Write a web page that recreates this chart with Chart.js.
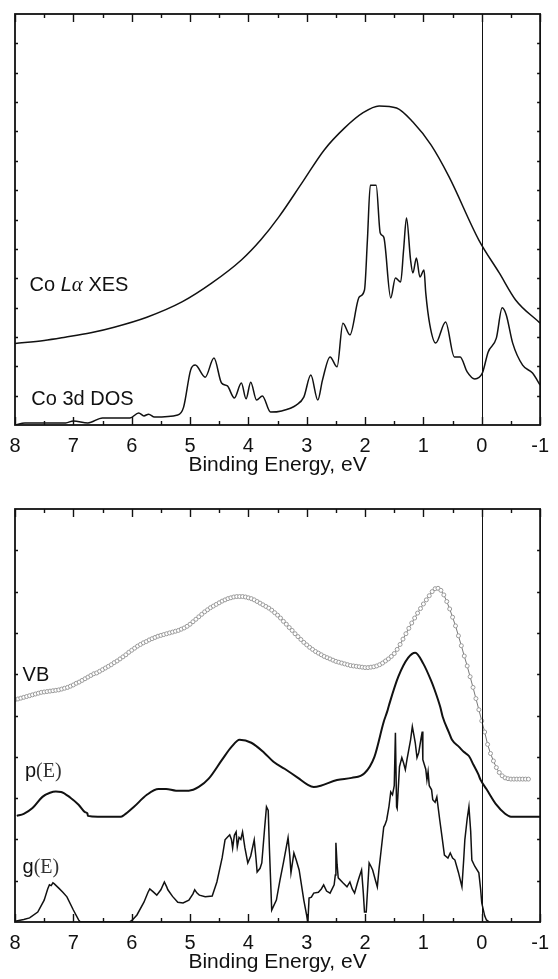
<!DOCTYPE html>
<html>
<head>
<meta charset="utf-8">
<script src="https://cdn.jsdelivr.net/npm/chart.js@4.4.1/dist/chart.umd.min.js"></script>
<style>
  body { margin: 0; background: #fff; }
  .panel { position: absolute; left: 0; }
  #xesPanel { top: 0; }
  #vbPanel { top: 497px; }
</style>
</head>
<body>
<canvas id="xesPanel" class="panel" width="558" height="482"></canvas>
<canvas id="vbPanel" class="panel" width="558" height="482"></canvas>
<script>
// binding energy axis (eV), drawn reversed: 8 on the left, -1 on the right
const energyTicks = [8, 7, 6, 5, 4, 3, 2, 1, 0, -1];
const axisTitle = "Binding Energy, eV";

// upper panel: [binding energy, intensity]
const xesCurve = [
  [8.00, 2.78], [7.50, 2.88], [7.14, 2.99], [6.70, 3.14], [6.30, 3.33], [5.74, 3.67],
  [5.13, 4.20], [4.63, 4.83], [4.12, 5.62], [3.79, 6.30], [3.48, 7.08], [3.07, 8.28],
  [2.70, 9.37], [2.35, 10.12], [2.04, 10.63], [1.76, 10.87], [1.46, 10.80], [1.18, 10.32],
  [0.87, 9.54], [0.56, 8.45], [0.05, 6.30], [-0.30, 5.18], [-0.58, 4.26], [-1.00, 3.47]
];

const dosCurve = [
  [8.00, 0.00], [7.83, 0.07], [7.13, 0.07], [7.00, 0.14], [6.75, 0.07], [6.50, 0.24],
  [6.03, 0.24], [5.88, 0.41], [5.79, 0.31], [5.71, 0.37], [5.61, 0.27], [5.21, 0.34],
  [5.11, 0.61], [4.99, 1.87], [4.91, 2.04], [4.74, 1.63], [4.59, 2.28], [4.46, 1.43],
  [4.36, 1.33], [4.24, 0.92], [4.12, 1.43], [4.04, 0.89], [3.96, 1.46], [3.86, 0.85],
  [3.76, 0.99], [3.62, 0.44], [3.43, 0.48], [3.18, 0.68], [3.05, 0.95], [2.93, 1.70],
  [2.81, 0.85], [2.73, 1.53], [2.60, 2.32], [2.48, 1.98], [2.38, 3.47], [2.26, 3.07],
  [2.10, 4.36], [2.01, 4.60], [1.96, 6.30], [1.91, 8.17], [1.81, 8.17], [1.74, 6.54],
  [1.68, 6.40], [1.56, 4.33], [1.48, 5.01], [1.39, 4.87], [1.34, 5.96], [1.29, 7.05],
  [1.22, 5.62], [1.18, 5.18], [1.12, 5.69], [1.06, 5.04], [0.99, 5.28], [0.96, 4.50],
  [0.89, 3.41], [0.79, 2.79], [0.62, 3.51], [0.47, 2.32], [0.37, 2.32], [0.25, 1.81],
  [0.12, 1.57], [-0.01, 1.77], [-0.11, 2.49], [-0.25, 2.96], [-0.35, 3.99], [-0.42, 3.75],
  [-0.53, 2.79], [-0.70, 2.04], [-0.87, 1.77], [-1.00, 1.36]
];

// lower panel: valence band spectrum (open circles)
const vbSpectrum = [
  [8.00, 5.38], [7.95, 5.40], [7.90, 5.42], [7.85, 5.44], [7.80, 5.46], [7.75, 5.48],
  [7.70, 5.50], [7.65, 5.52], [7.60, 5.54], [7.55, 5.56], [7.50, 5.57], [7.45, 5.58],
  [7.40, 5.59], [7.35, 5.60], [7.30, 5.61], [7.25, 5.62], [7.20, 5.64], [7.15, 5.66],
  [7.10, 5.68], [7.05, 5.71], [7.00, 5.74], [6.95, 5.78], [6.90, 5.81], [6.85, 5.85],
  [6.80, 5.89], [6.75, 5.93], [6.70, 5.97], [6.65, 6.01], [6.60, 6.03], [6.55, 6.07],
  [6.50, 6.11], [6.45, 6.15], [6.40, 6.19], [6.35, 6.23], [6.30, 6.28], [6.25, 6.32],
  [6.20, 6.37], [6.15, 6.42], [6.10, 6.47], [6.05, 6.53], [6.00, 6.58], [5.95, 6.63],
  [5.90, 6.68], [5.85, 6.72], [5.80, 6.76], [5.75, 6.79], [5.70, 6.83], [5.65, 6.86],
  [5.60, 6.89], [5.55, 6.92], [5.50, 6.94], [5.45, 6.96], [5.40, 6.98], [5.35, 7.00],
  [5.30, 7.02], [5.25, 7.04], [5.20, 7.06], [5.15, 7.09], [5.10, 7.12], [5.05, 7.16],
  [5.00, 7.21], [4.95, 7.27], [4.90, 7.33], [4.85, 7.39], [4.80, 7.45], [4.75, 7.51],
  [4.70, 7.56], [4.65, 7.61], [4.60, 7.65], [4.55, 7.69], [4.50, 7.73], [4.45, 7.77],
  [4.40, 7.80], [4.35, 7.83], [4.30, 7.85], [4.25, 7.87], [4.20, 7.88], [4.15, 7.88],
  [4.10, 7.88], [4.05, 7.87], [4.00, 7.85], [3.95, 7.83], [3.90, 7.80], [3.85, 7.76],
  [3.80, 7.72], [3.75, 7.68], [3.70, 7.64], [3.65, 7.60], [3.60, 7.55], [3.55, 7.49],
  [3.50, 7.43], [3.45, 7.36], [3.40, 7.28], [3.35, 7.21], [3.30, 7.13], [3.25, 7.06],
  [3.20, 6.98], [3.15, 6.91], [3.10, 6.84], [3.05, 6.77], [3.00, 6.71], [2.95, 6.65],
  [2.90, 6.60], [2.85, 6.55], [2.80, 6.51], [2.75, 6.47], [2.70, 6.43], [2.65, 6.40],
  [2.60, 6.37], [2.55, 6.34], [2.50, 6.31], [2.45, 6.29], [2.40, 6.27], [2.35, 6.25],
  [2.30, 6.23], [2.25, 6.21], [2.20, 6.20], [2.15, 6.19], [2.10, 6.18], [2.05, 6.17],
  [2.00, 6.16], [1.95, 6.16], [1.90, 6.17], [1.85, 6.18], [1.80, 6.20], [1.75, 6.23],
  [1.70, 6.27], [1.65, 6.32], [1.60, 6.37], [1.55, 6.43], [1.50, 6.50], [1.45, 6.60],
  [1.40, 6.72], [1.35, 6.85], [1.30, 6.98], [1.25, 7.11], [1.20, 7.24], [1.15, 7.36],
  [1.10, 7.48], [1.05, 7.59], [1.00, 7.70], [0.95, 7.80], [0.90, 7.90], [0.85, 8.00],
  [0.80, 8.07], [0.75, 8.08], [0.70, 8.03], [0.65, 7.92], [0.60, 7.76], [0.55, 7.58],
  [0.50, 7.38], [0.45, 7.17], [0.40, 6.93], [0.35, 6.69], [0.30, 6.44], [0.25, 6.20],
  [0.20, 5.94], [0.15, 5.68], [0.10, 5.41], [0.05, 5.14], [0.00, 4.87], [-0.05, 4.60],
  [-0.10, 4.30], [-0.15, 4.08], [-0.20, 3.90], [-0.25, 3.74], [-0.30, 3.62], [-0.35, 3.54],
  [-0.40, 3.49], [-0.45, 3.47], [-0.50, 3.46], [-0.55, 3.46], [-0.60, 3.46], [-0.65, 3.46],
  [-0.70, 3.46], [-0.75, 3.46], [-0.80, 3.46]
];

const pCurve = [
  [7.97, 2.57], [7.85, 2.62], [7.70, 2.76], [7.53, 3.03], [7.40, 3.13], [7.30, 3.16],
  [7.21, 3.15], [7.05, 3.01], [6.91, 2.84], [6.80, 2.66], [6.76, 2.63], [6.75, 2.57],
  [6.58, 2.55], [6.19, 2.55], [6.13, 2.59], [5.96, 2.79], [5.74, 3.08], [5.54, 3.22],
  [5.41, 3.22], [5.24, 3.18], [5.02, 3.18], [4.85, 3.27], [4.68, 3.47], [4.45, 3.93],
  [4.29, 4.24], [4.15, 4.41], [3.95, 4.34], [3.73, 4.10], [3.57, 3.88], [3.38, 3.71],
  [3.15, 3.49], [2.98, 3.32], [2.88, 3.27], [2.76, 3.30], [2.48, 3.44], [2.23, 3.49],
  [2.01, 3.60], [1.84, 4.00], [1.68, 4.85], [1.62, 5.10], [1.59, 5.25], [1.43, 5.94],
  [1.26, 6.40], [1.14, 6.52], [1.00, 6.25], [0.87, 5.85], [0.81, 5.63], [0.71, 5.20],
  [0.67, 4.97], [0.56, 4.58], [0.51, 4.41], [0.39, 4.24], [0.31, 4.12], [0.22, 4.02],
  [0.14, 3.80], [0.06, 3.58], [0.02, 3.44], [-0.08, 3.22], [-0.25, 2.84], [-0.40, 2.62],
  [-0.50, 2.55], [-1.00, 2.55]
];

const gCurve = [
  [8.00, 0.02], [7.85, 0.06], [7.75, 0.10], [7.61, 0.24], [7.50, 0.53], [7.44, 0.80],
  [7.41, 0.90], [7.38, 0.88], [7.35, 0.95], [7.33, 0.93], [7.25, 0.82], [7.18, 0.72],
  [7.11, 0.61], [7.00, 0.29], [6.91, 0.05], [6.88, 0.00], [6.04, 0.00], [5.98, 0.06],
  [5.91, 0.17], [5.79, 0.48], [5.72, 0.72], [5.69, 0.80], [5.64, 0.74], [5.57, 0.65],
  [5.50, 0.78], [5.44, 0.97], [5.40, 0.85], [5.38, 0.78], [5.30, 0.62], [5.21, 0.48],
  [5.12, 0.46], [5.02, 0.53], [4.95, 0.68], [4.92, 0.78], [4.88, 0.70], [4.84, 0.65],
  [4.74, 0.61], [4.62, 0.63], [4.54, 0.97], [4.45, 1.55], [4.40, 1.99], [4.36, 2.05],
  [4.32, 2.11], [4.29, 2.00], [4.27, 1.79], [4.24, 2.10], [4.21, 2.18], [4.19, 1.82],
  [4.16, 2.05], [4.13, 2.00], [4.10, 2.18], [4.06, 1.80], [4.01, 1.43], [3.96, 1.60],
  [3.90, 1.99], [3.87, 1.55], [3.85, 1.21], [3.80, 1.30], [3.77, 1.43], [3.72, 2.30],
  [3.69, 2.79], [3.66, 2.70], [3.64, 1.80], [3.60, 0.29], [3.52, 0.53], [3.46, 1.00],
  [3.40, 1.43], [3.32, 2.04], [3.29, 1.60], [3.27, 1.19], [3.22, 1.67], [3.18, 1.50],
  [3.13, 1.26], [3.05, 0.53], [2.98, 0.00], [2.96, 0.58], [2.92, 0.60], [2.88, 0.70],
  [2.80, 0.72], [2.75, 0.80], [2.71, 0.90], [2.66, 0.75], [2.60, 0.70], [2.53, 0.90],
  [2.51, 1.14], [2.50, 1.92], [2.48, 1.40], [2.46, 1.07], [2.38, 0.95], [2.31, 0.85],
  [2.26, 0.97], [2.22, 0.80], [2.18, 0.70], [2.13, 0.95], [2.10, 1.09], [2.06, 1.26],
  [2.03, 0.70], [2.01, 0.24], [1.98, 0.24], [1.93, 1.43], [1.90, 1.35], [1.87, 1.26],
  [1.82, 1.00], [1.79, 0.85], [1.76, 1.30], [1.73, 1.67], [1.68, 2.30], [1.66, 2.35],
  [1.63, 2.47], [1.59, 2.80], [1.56, 3.15], [1.53, 3.08], [1.50, 3.30], [1.48, 4.58],
  [1.46, 2.79], [1.45, 2.75], [1.41, 3.76], [1.37, 3.98], [1.34, 3.85], [1.31, 3.69],
  [1.28, 3.95], [1.26, 4.10], [1.22, 4.41], [1.19, 4.73], [1.16, 4.50], [1.14, 4.34],
  [1.11, 3.98], [1.08, 4.10], [1.04, 4.45], [1.02, 4.61], [1.01, 3.93], [0.96, 3.70],
  [0.94, 3.44], [0.92, 3.64], [0.90, 3.30], [0.86, 3.20], [0.84, 2.96], [0.80, 2.90],
  [0.77, 3.03], [0.72, 2.47], [0.68, 2.05], [0.64, 1.62], [0.58, 1.55], [0.54, 1.67],
  [0.50, 1.55], [0.46, 1.50], [0.40, 1.20], [0.34, 0.85], [0.31, 1.50], [0.29, 1.99],
  [0.25, 2.50], [0.22, 2.79], [0.19, 2.20], [0.17, 1.50], [0.12, 1.35], [0.05, 1.19],
  [0.02, 0.80], [0.00, 0.46], [-0.05, 0.15], [-0.08, 0.05], [-0.13, 0.00]
];

const SANS = "'Liberation Sans', Arial, Helvetica, sans-serif";
const SERIF = "'Liberation Serif', 'Times New Roman', serif";

// frame, inward ticks, the E = 0 marker line and the curve captions
function makeFramePlugin(id, captions) {
  return {
    id,
    afterDatasetsDraw(chart) {
      const { ctx, chartArea: area } = chart;
      const xs = chart.scales.x;
      const ys = chart.scales.y;
      ctx.save();

      const zeroX = Math.round(xs.getPixelForValue(0)) + 0.5;
      ctx.strokeStyle = "#111";
      ctx.lineWidth = 1;
      ctx.beginPath();
      ctx.moveTo(zeroX, area.top);
      ctx.lineTo(zeroX, area.bottom);
      ctx.stroke();

      ctx.lineWidth = 1.4;
      ctx.beginPath();
      const xTick = (value, len) => {
        const px = Math.round(xs.getPixelForValue(value)) + 0.5;
        ctx.moveTo(px, area.bottom); ctx.lineTo(px, area.bottom - len);
        ctx.moveTo(px, area.top); ctx.lineTo(px, area.top + len);
      };
      energyTicks.forEach(e => xTick(e, 8));
      energyTicks.slice(1).forEach(e => xTick(e + 0.5, 4));
      for (let v = ys.min + 1; v < ys.max; v++) {
        const py = Math.round(ys.getPixelForValue(v)) + 0.5;
        ctx.moveTo(area.left, py); ctx.lineTo(area.left + 3, py);
        ctx.moveTo(area.right, py); ctx.lineTo(area.right - 3, py);
      }
      ctx.stroke();

      ctx.lineWidth = 1.8;
      ctx.strokeRect(area.left, area.top, area.right - area.left, area.bottom - area.top);

      ctx.textBaseline = "alphabetic";
      ctx.textAlign = "left";
      captions.forEach(caption => {
        let x = xs.getPixelForValue(caption.at[0]);
        const y = ys.getPixelForValue(caption.at[1]);
        caption.parts.forEach(([text, font, color]) => {
          ctx.font = font;
          ctx.fillStyle = color || "#111";
          ctx.fillText(text, x, y);
          x += ctx.measureText(text).width;
        });
      });
      ctx.restore();
    }
  };
}

function lineSet(data, extra) {
  return Object.assign({
    data,
    borderColor: "#111",
    borderWidth: 1.5,
    pointRadius: 0,
    fill: false,
    tension: 0
  }, extra);
}

function panelOptions(yMax, topPad) {
  return {
    responsive: false,
    animation: false,
    events: [],
    layout: { autoPadding: false, padding: { top: topPad, left: 15, right: 5, bottom: 0 } },
    plugins: { legend: { display: false }, tooltip: { enabled: false } },
    scales: {
      x: {
        type: "linear",
        reverse: true,
        min: -1,
        max: 8,
        grid: { display: false, drawTicks: false },
        border: { display: false },
        afterFit: scale => { scale.height = 57; },
        afterBuildTicks: scale => { scale.ticks = energyTicks.map(value => ({ value })); },
        ticks: {
          color: "#111",
          padding: 9,
          autoSkip: false,
          maxRotation: 0,
          font: { family: SANS, size: 20 },
          callback: value => String(value)
        },
        title: {
          display: true,
          text: axisTitle,
          color: "#111",
          font: { family: SANS, size: 21 },
          padding: { top: 2, bottom: 4 }
        }
      },
      y: { display: false, min: 0, max: yMax }
    }
  };
}

const labelFont = `20px ${SANS}`;

new Chart(document.getElementById("xesPanel").getContext("2d"), {
  type: "line",
  data: {
    datasets: [
      lineSet(xesCurve, { cubicInterpolationMode: "monotone" }),
      lineSet(dosCurve, { cubicInterpolationMode: "monotone" })
    ]
  },
  options: panelOptions(14, 14),
  plugins: [makeFramePlugin("xesFrame", [
    { at: [7.75, 4.56], parts: [["Co ", labelFont], ["L", `italic 20px ${SANS}`], ["\u03b1", `italic 21px ${SERIF}`], [" XES", labelFont]] },
    { at: [7.72, 0.68], parts: [["Co 3d DOS", labelFont]] }
  ])]
});

new Chart(document.getElementById("vbPanel").getContext("2d"), {
  type: "line",
  data: {
    datasets: [
      lineSet(vbSpectrum, {
        borderColor: "#555",
        borderWidth: 0.8,
        pointRadius: 2,
        pointBorderWidth: 1,
        pointBorderColor: "#9a9a9a",
        pointBackgroundColor: "#fff"
      }),
      lineSet(pCurve, { borderWidth: 2, cubicInterpolationMode: "monotone" }),
      lineSet(gCurve, { borderWidth: 1.5 })
    ]
  },
  options: panelOptions(10, 12),
  plugins: [makeFramePlugin("vbFrame", [
    { at: [7.87, 5.84], parts: [["VB", labelFont]] },
    { at: [7.83, 3.52], parts: [["p", labelFont], ["(E)", `20px ${SERIF}`, "#333"]] },
    { at: [7.87, 1.19], parts: [["g", labelFont], ["(E)", `20px ${SERIF}`, "#333"]] }
  ])]
});
</script>
</body>
</html>
